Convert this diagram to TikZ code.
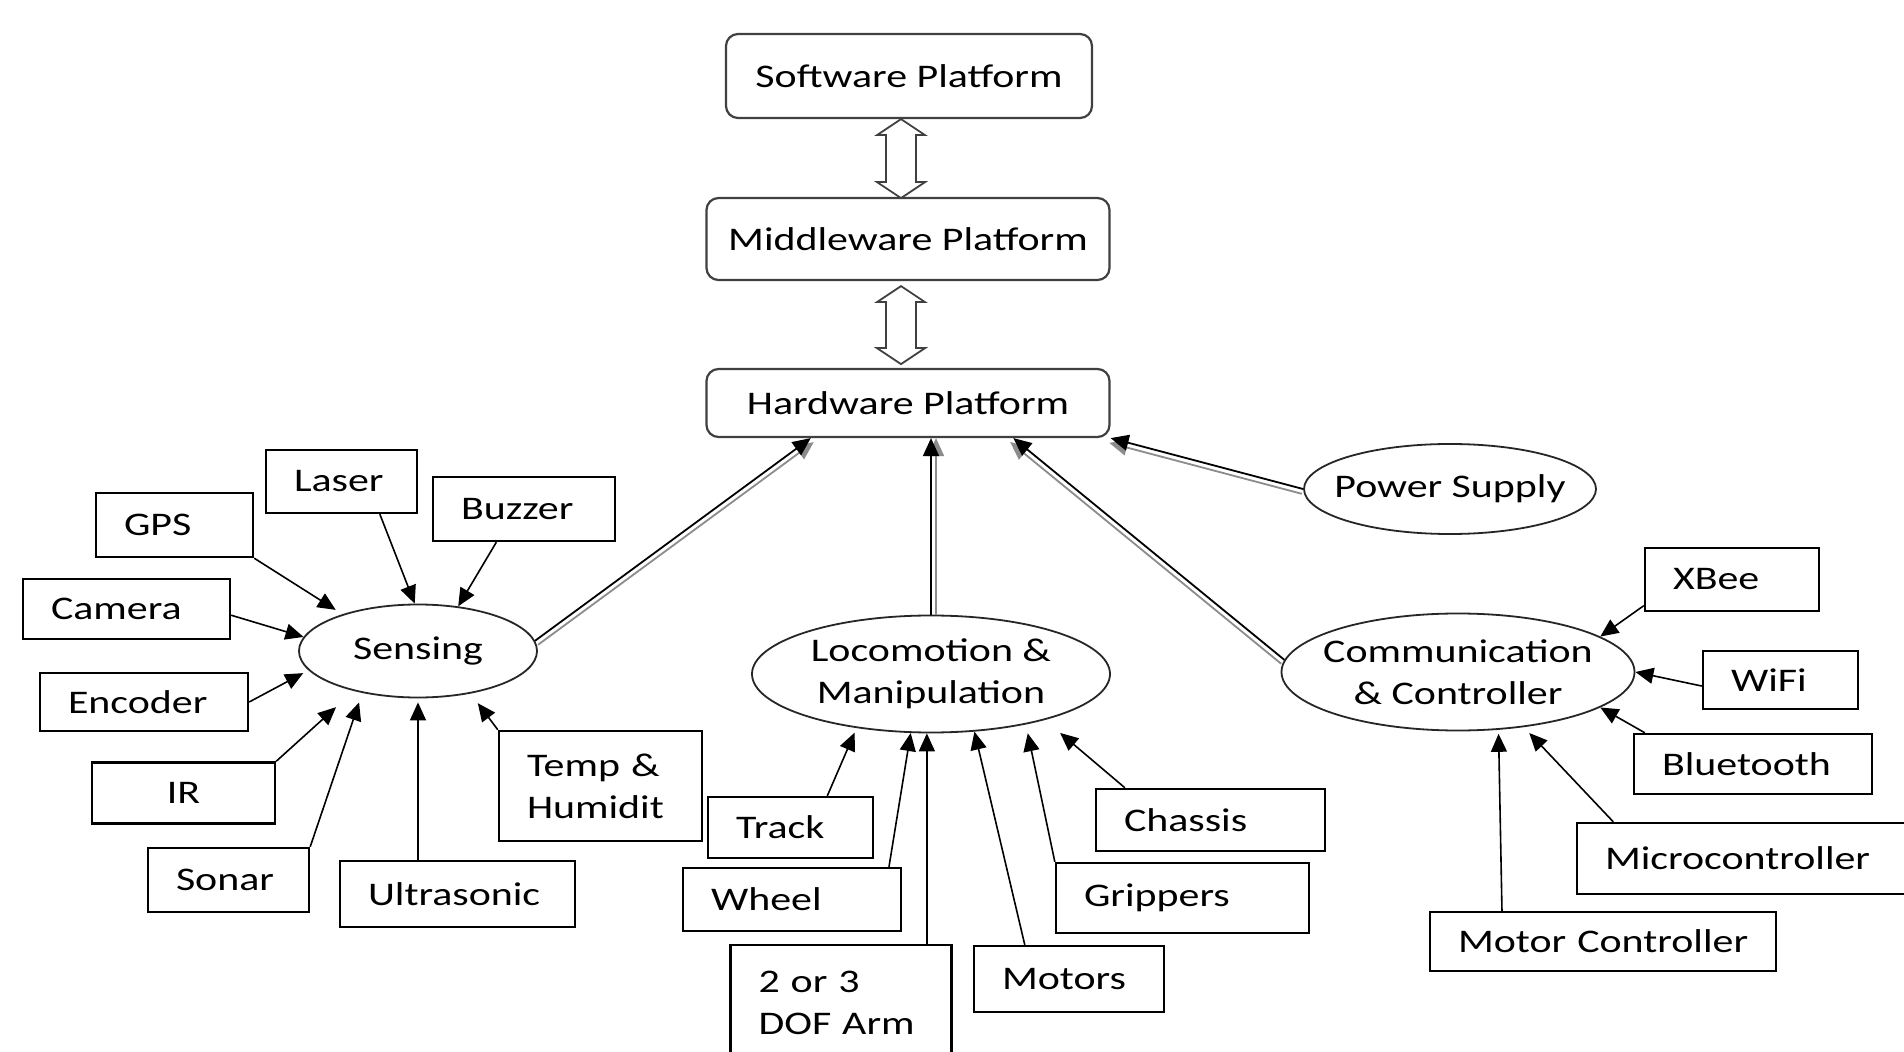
\documentclass[tikz,border=0pt]{standalone}
\usepackage{fontspec}
\setmainfont{Carlito}[FakeStretch=1.27]
\usetikzlibrary{shapes.geometric,arrows.meta,calc}

\begin{document}
\begin{tikzpicture}[x=0.5pt, y=-0.5pt,
        font=\fontsize{16.5}{21}\selectfont,
        platform/.style={draw=black!75, line width=1.1pt, rounded corners=6pt, align=center, inner sep=2pt},
        unit/.style={ellipse, draw=black!85, line width=0.9pt, align=center, inner sep=-20pt},
        part/.style={rectangle, draw, line width=1.2pt, align=left, inner xsep=14pt, inner ysep=2pt, text width=#1},
        feed/.style={-{Triangle[length=9pt,width=8pt]}, line width=0.8pt},
        bus/.style={-{Triangle[length=9pt,width=8pt]}, line width=0.9pt},
        busshade/.style={bus, black!45},
        hollow/.style={draw=black!75, line width=0.9pt, fill=white}]
            % Page
            \path[use as bounding box, fill=white] (0,0) rectangle (1904,1052);
            % Platforms
            \node[platform, minimum width=183pt, minimum height=42pt] (sw) at (909,76) {Software Platform};
            \node[platform, minimum width=201.5pt, minimum height=41pt] (mw) at (908,239) {Middleware Platform};
            \node[platform, minimum width=201.5pt, minimum height=34pt] (hw) at (908,403) {Hardware Platform};
            % Hollow double arrows between platforms
            \draw[hollow] ($(sw.south)+(-8,0)$) -- ++(24,16) -- ++(-9,0) -- ++(0,47) -- ++(9,0) -- ++(-24,16)
                -- ++(-24,-16) -- ++(9,0) -- ++(0,-47) -- ++(-9,0) -- cycle;
            \draw[hollow] ($(mw.south)+(-7,5)$) -- ++(24,16) -- ++(-9,0) -- ++(0,46) -- ++(9,0) -- ++(-24,16)
                -- ++(-24,-16) -- ++(9,0) -- ++(0,-46) -- ++(-9,0) -- cycle;
            % Subsystems
            \node[unit, minimum width=119pt, minimum height=46.5pt] (sensing) at (418,651) {Sensing};
            \node[unit, minimum width=179pt, minimum height=58.5pt] (loco) at (931,674) {Locomotion \&\\Manipulation};
            \node[unit, minimum width=176.5pt, minimum height=58.5pt] (comm) at (1458,672) {Communication\\\& Controller};
            \node[unit, minimum width=146pt, minimum height=45pt] (power) at (1450,489) {Power~Supply};
            % Subsystems to hardware
            \draw[busshade, transform canvas={shift={(3,4)}}] (sensing.5) -- ($(hw.south west)!0.26!(hw.south east)$);
            \draw[bus] (sensing.5) -- ($(hw.south west)!0.26!(hw.south east)$);
            \draw[busshade, transform canvas={shift={(5,0)}}] (loco.north) -- (loco.north |- hw.south);
            \draw[bus] (loco.north) -- (loco.north |- hw.south);
            \draw[busshade, transform canvas={shift={(-3.2,3.9)}}] (comm.176) -- ($(hw.south west)!0.76!(hw.south east)$);
            \draw[bus] (comm.176) -- ($(hw.south west)!0.76!(hw.south east)$);
            \draw[busshade, transform canvas={shift={(-1.3,4.8)}}] (power.west) -- (hw.south east);
            \draw[bus] (power.west) -- (hw.south east);
            % Sensing parts
            \node[part=47.5pt, minimum height=31.5pt] (laser) at (341.5,481.5) {Laser};
            \node[part=50.5pt, minimum height=32pt] (gps) at (174.5,525) {GPS};
            \node[part=63pt, minimum height=32pt] (buzzer) at (524,509) {Buzzer};
            \node[part=75.5pt, minimum height=30pt] (camera) at (126.5,609) {Camera};
            \node[part=76pt, minimum height=29pt] (encoder) at (144,702) {Encoder};
            \node[part=63.5pt, align=center, minimum height=30.5pt] (ir) at (183.5,793) {IR};
            \node[part=52.5pt, minimum height=32pt] (sonar) at (228.5,880) {Sonar};
            \node[part=89.5pt, minimum height=33pt] (ultra) at (457.5,894) {Ultrasonic};
            \node[part=73.5pt, minimum height=55pt] (temp) at (600.5,786) {Temp \&\\Humidit};
            \draw[feed, shorten >=4pt] (gps.south east) -- (sensing.154);
            \draw[feed] ($(laser.south)!0.5!(laser.south east)$) -- (sensing.94);
            \draw[feed] ($(buzzer.south west)!0.35!(buzzer.south east)$) -- (sensing.48);
            \draw[feed] ($(camera.south east)!0.4!(camera.north east)$) -- (sensing.173);
            \draw[feed, shorten >=3pt] (encoder.east) -- (sensing.190);
            \draw[feed, shorten >=12pt] (ir.north east) -- (sensing.212);
            \draw[feed, shorten >=5pt] (sonar.north east) -- (sensing.217);
            \draw[feed, shorten >=2pt] (ultra.north -| sensing.south) -- (sensing.south);
            \draw[feed, shorten >=6pt] (temp.north west) -- (sensing.321);
            % Locomotion parts
            \node[part=54.5pt, minimum height=30.5pt] (track) at (790.5,827.5) {Track};
            \node[part=81pt, minimum height=31.5pt] (wheel) at (792,899.5) {Wheel};
            \node[part=82.5pt, minimum height=57.5pt] (dof) at (841,1002.5) {2 or 3\\DOF Arm};
            \node[part=67pt, minimum height=33pt] (motors) at (1069,979) {Motors};
            \node[part=98.5pt, minimum height=35pt] (grippers) at (1182.5,898) {Grippers};
            \node[part=86.5pt, minimum height=31pt] (chassis) at (1210.5,820) {Chassis};
            \draw[feed, shorten >=2.5pt] ($(track.north west)!0.72!(track.north east)$) -- (loco.216);
            \draw[feed] ($(wheel.north west)!0.94!(wheel.north east)$) -- (loco.251);
            \draw[feed] (loco.266 |- dof.north) -- (loco.266);
            \draw[feed] ($(motors.north west)!0.27!(motors.north east)$) -- (loco.307);
            \draw[feed, shorten >=4.5pt] (grippers.north west) -- (loco.332);
            \draw[feed, shorten >=10pt] ($(chassis.north west)!0.13!(chassis.north east)$) -- (loco.338);
            % Communication parts
            \node[part=59pt, minimum height=31.5pt] (xbee) at (1732,579.5) {XBee};
            \node[part=49.5pt, minimum height=29pt] (wifi) at (1780.5,680) {WiFi};
            \node[part=91pt, minimum height=30pt] (bluetooth) at (1753,764) {Bluetooth};
            \node[part=141pt, minimum height=35.5pt] (micro) at (1746,858.5) {Microcontroller};
            \node[part=145pt, minimum height=29.5pt] (motorctl) at (1603,941.5) {\mbox{Motor Controller}};
            \draw[feed] ($(xbee.south west)!0.1!(xbee.north west)$) -- (comm.14);
            \draw[feed] ($(wifi.south west)!0.4!(wifi.north west)$) -- (comm.east);
            \draw[feed] ($(bluetooth.north west)!0.05!(bluetooth.north east)$) -- (comm.346);
            \draw[feed, shorten >=4pt] ($(micro.north west)!0.11!(micro.north east)$) -- (comm.320);
            \draw[feed, shorten >=2pt] ($(motorctl.north west)!0.21!(motorctl.north east)$) -- (comm.305);
\end{tikzpicture}
\end{document}
